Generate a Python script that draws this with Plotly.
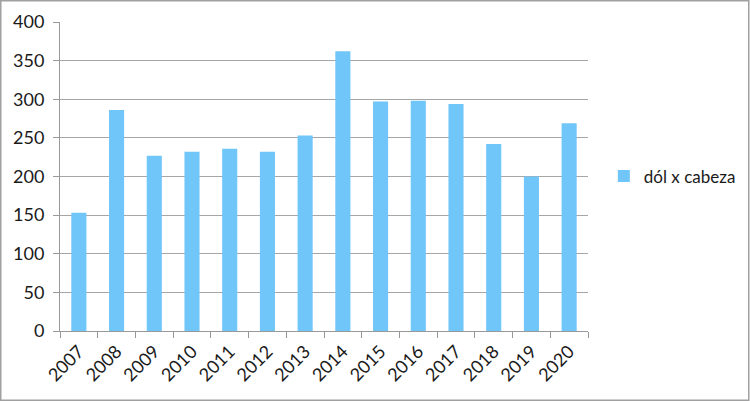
import plotly.graph_objects as go

years = ["2007", "2008", "2009", "2010", "2011", "2012", "2013",
         "2014", "2015", "2016", "2017", "2018", "2019", "2020"]
values = [153, 286, 227, 232, 236, 232, 253, 362, 297, 298, 294, 242, 200, 269]
series_name = "dól x cabeza"
y_ticks = [0, 50, 100, 150, 200, 250, 300, 350, 400]

W, H = 750, 401
ml, mr, mt, mb = 60, 162, 22, 70
pw, ph = W - ml - mr, H - mt - mb

fig = go.Figure()
fig.add_trace(go.Bar(x=years, y=values, name=series_name,
                     marker=dict(color="#70C6F9", line=dict(width=0))))

font = dict(family="Lato, 'Open Sans', sans-serif", size=17, color="#1a1a1a")
fig.update_layout(
    width=W, height=H,
    margin=dict(l=ml, r=mr, t=mt, b=mb, pad=0, autoexpand=False),
    paper_bgcolor="white", plot_bgcolor="white",
    font=font,
    bargap=0.6,
    showlegend=True,
    legend=dict(x=1.03, y=0.5, xanchor="left", yanchor="middle",
                font=dict(family="Lato, 'Open Sans', sans-serif", size=17, color="#1a1a1a"),
                itemwidth=30),
    xaxis=dict(type="category", tickangle=-45, showgrid=False, automargin=False,
               showline=True, linecolor="#999999", linewidth=1,
               ticks="outside", tickson="boundaries", ticklen=6, tickcolor="#999999",
               ticklabelstandoff=2,
               tickfont=dict(size=18)),
    yaxis=dict(range=[0, 400], tickvals=y_ticks, showgrid=True, automargin=False,
               gridcolor="#A6A6A6", gridwidth=1,
               showline=True, linecolor="#999999", linewidth=1,
               ticks="outside", ticklen=6, tickcolor="#999999",
               ticklabelstandoff=5,
               zeroline=False, tickfont=dict(size=18)),
    shapes=[dict(type="rect", xref="paper", yref="paper",
                 x0=(-ml + 0.75) / pw, x1=(W - ml - 1.25) / pw,
                 y0=(-mb + 0.75) / ph, y1=(H - mb - 0.75) / ph,
                 line=dict(color="#A0A0A0", width=1.5), layer="below")],
)

fig.write_html("out.html", config={"displayModeBar": False},
               post_script="document.body.style.margin='0';document.body.style.overflow='hidden';")
